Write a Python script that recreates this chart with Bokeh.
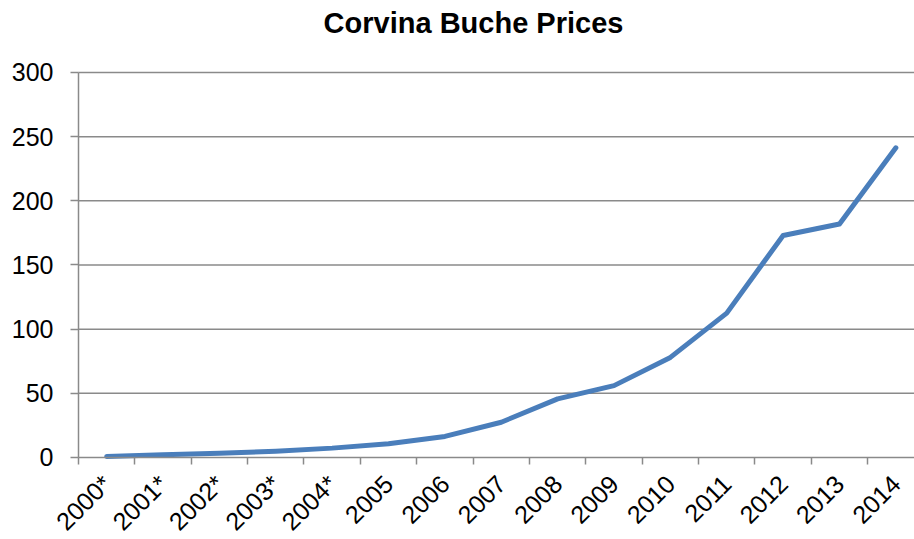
import math
from bokeh.plotting import figure
from bokeh.models import FixedTicker, Range1d, Label
from bokeh.embed import file_html
from bokeh.resources import INLINE

categories = ["2000*", "2001*", "2002*", "2003*", "2004*", "2005", "2006",
              "2007", "2008", "2009", "2010", "2011", "2012", "2013", "2014"]
prices = [0.8, 2.1, 3.4, 4.9, 7.3, 10.7, 16.4, 27.5, 45.7, 56, 78, 112.5, 173, 182, 241.3]
y_ticks = [0, 50, 100, 150, 200, 250, 300]
title_text = "Corvina Buche Prices"

xs = list(range(len(categories)))
x_lo, x_hi = -0.5, 14.33          # plot-area extent in category units
y_lo, y_hi = y_ticks[0], y_ticks[-1]

# The frame covers the whole canvas; axes are pinned inside it so nothing is clipped.
p = figure(width=914, height=539, output_backend="svg", toolbar_location=None,
           x_range=Range1d(-1.8837, 14.3306), y_range=Range1d(-63.9, 356.1),
           min_border_left=0, min_border_right=0, min_border_top=0, min_border_bottom=0)
p.outline_line_color = None
p.background_fill_color = "white"
p.border_fill_color = "white"

p.add_layout(Label(x=473, y=516.5, x_units="screen", y_units="screen", text=title_text,
                   text_align="center", text_baseline="middle",
                   text_font="Liberation Sans", text_font_size="29px", text_font_style="bold",
                   text_color="black"))

grey = "#8a8a8a"
# horizontal gridlines limited to the plot area
p.xgrid.grid_line_color = None
p.ygrid.grid_line_color = None
p.segment(x0=[x_lo] * (len(y_ticks) - 1), x1=[x_hi] * (len(y_ticks) - 1),
          y0=y_ticks[1:], y1=y_ticks[1:], line_color=grey, line_width=1.5)

p.line(xs, prices, line_color="#4A7EBB", line_width=5, line_cap="round", line_join="round")

# y axis
p.yaxis.fixed_location = x_lo
p.yaxis.bounds = (y_lo, y_hi)
p.yaxis.ticker = FixedTicker(ticks=y_ticks)
p.yaxis.axis_line_color = grey
p.yaxis.axis_line_width = 1.5
p.yaxis.major_tick_line_color = grey
p.yaxis.major_tick_line_width = 1.5
p.yaxis.major_tick_out = 8
p.yaxis.major_tick_in = 0
p.yaxis.minor_tick_line_color = None
p.yaxis.major_label_text_font = "Liberation Sans"
p.yaxis.major_label_text_font_size = "25px"
p.yaxis.major_label_text_color = "black"
p.yaxis.major_label_standoff = 17

# x axis pinned at y=0, ticks between categories, labels at categories
p.xaxis.fixed_location = y_lo
p.xaxis.bounds = (x_lo, x_hi)
p.xaxis.ticker = FixedTicker(ticks=xs, minor_ticks=[i - 0.5 for i in range(len(categories))])
p.xaxis.major_label_overrides = {i: c for i, c in enumerate(categories)}
p.xaxis.axis_line_color = grey
p.xaxis.axis_line_width = 1.5
p.xaxis.major_tick_line_color = None
p.xaxis.major_tick_out = 0
p.xaxis.major_tick_in = 0
p.xaxis.minor_tick_line_color = grey
p.xaxis.minor_tick_line_width = 1.5
p.xaxis.minor_tick_out = 7
p.xaxis.minor_tick_in = 0
p.xaxis.major_label_orientation = math.pi / 4
p.xaxis.major_label_text_font = "Liberation Sans"
p.xaxis.major_label_text_font_size = "25px"
p.xaxis.major_label_text_color = "black"
p.xaxis.major_label_standoff = 15

open("out.html", "w").write(file_html(p, INLINE))
